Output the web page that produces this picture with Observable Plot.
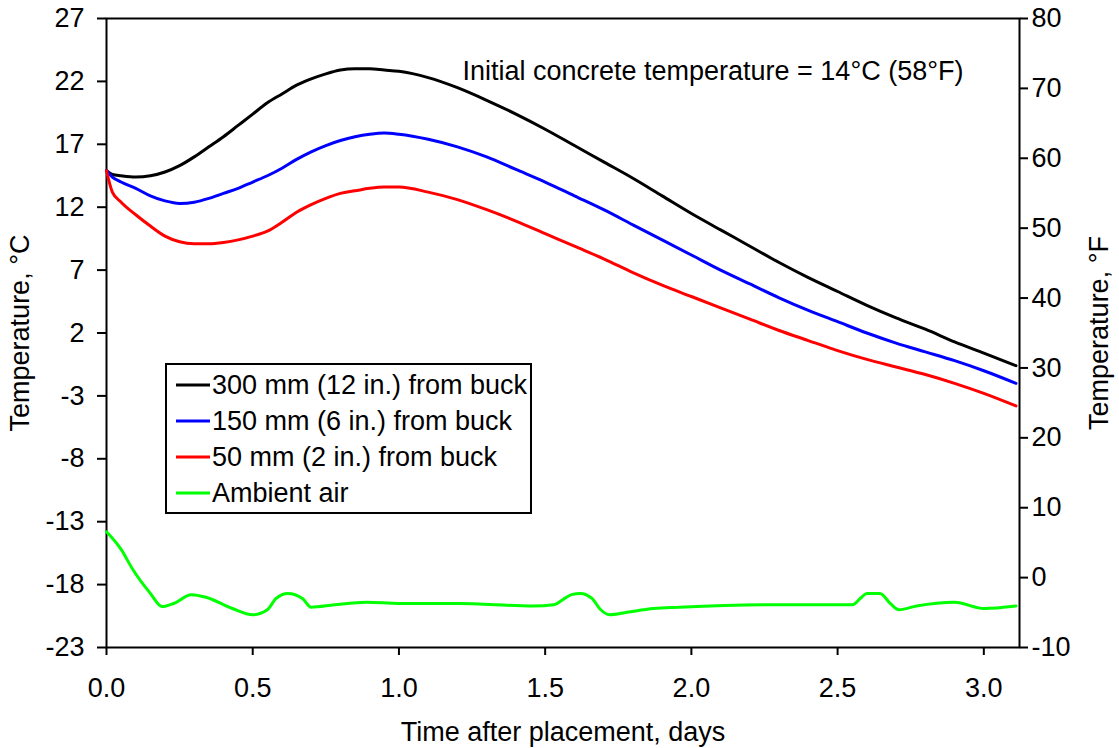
<!DOCTYPE html>
<html>
<head>
<meta charset="utf-8">
<script src="https://cdn.jsdelivr.net/npm/d3@7"></script>
<script src="https://cdn.jsdelivr.net/npm/@observablehq/plot@0.6"></script>
<style>
  html, body { margin: 0; padding: 0; background: #fff; }
  #wrap { position: relative; width: 1119px; height: 748px; font-family: "Liberation Sans", Arial, sans-serif; }
  #legend { position: absolute; left: 165px; top: 363px; width: 363px; height: 147px; border: 2px solid #000; background: #fff; }
</style>
</head>
<body>
<div id="wrap"></div>
<script>
// ---- data ----
const days = [0, 0.02, 0.05, 0.1, 0.15, 0.2, 0.25, 0.3, 0.35, 0.4, 0.45, 0.5, 0.55, 0.6, 0.65, 0.7, 0.75, 0.8, 0.85, 0.9, 0.95, 1.0,
  1.1, 1.2, 1.3, 1.4, 1.5, 1.6, 1.7, 1.8, 1.9, 2.0, 2.1, 2.2, 2.3, 2.4, 2.5, 2.6, 2.7, 2.8, 2.9, 3.0, 3.11];
const temp300mm = [14.9, 14.6, 14.5, 14.4, 14.5, 14.8, 15.3, 16.0, 16.8, 17.6, 18.5, 19.4, 20.3, 21.0, 21.7, 22.2, 22.6, 22.9, 23.0, 23.0, 22.9, 22.8,
  22.3, 21.5, 20.5, 19.4, 18.2, 16.9, 15.6, 14.3, 12.9, 11.5, 10.2, 8.9, 7.6, 6.4, 5.3, 4.2, 3.2, 2.3, 1.3, 0.4, -0.6];
const temp150mm = [14.9, 14.4, 14.0, 13.5, 12.9, 12.5, 12.3, 12.4, 12.7, 13.1, 13.5, 14.0, 14.5, 15.1, 15.8, 16.4, 16.9, 17.3, 17.6, 17.8, 17.9, 17.8,
  17.4, 16.8, 16.0, 15.0, 14.0, 12.9, 11.8, 10.6, 9.4, 8.2, 7.0, 5.9, 4.8, 3.8, 2.9, 2.0, 1.2, 0.5, -0.2, -1.0, -2.0];
const temp50mm = [14.9, 13.2, 12.4, 11.4, 10.5, 9.7, 9.25, 9.1, 9.1, 9.2, 9.4, 9.7, 10.1, 10.8, 11.6, 12.2, 12.7, 13.1, 13.3, 13.5, 13.6, 13.6,
  13.2, 12.6, 11.8, 10.9, 9.9, 8.9, 7.9, 6.8, 5.8, 4.9, 4.0, 3.1, 2.2, 1.4, 0.6, -0.1, -0.7, -1.3, -2.0, -2.8, -3.8];
const ambientDays = [0, 0.05, 0.09, 0.15, 0.19, 0.23, 0.29, 0.34, 0.43, 0.5, 0.55, 0.58, 0.62, 0.67, 0.70, 0.78, 0.89, 1.0, 1.2, 1.46, 1.53,
  1.56, 1.59, 1.62, 1.66, 1.69, 1.72, 1.78, 1.87, 1.96, 2.3, 2.55, 2.58, 2.60, 2.645, 2.68, 2.71, 2.77, 2.90, 3.0, 3.11];
const ambientTemp = [-13.8, -15.2, -16.8, -18.7, -19.75, -19.5, -18.8, -19.0, -19.9, -20.4, -20.0, -19.1, -18.7, -19.1, -19.8, -19.6, -19.4, -19.5, -19.5, -19.7, -19.6,
  -19.2, -18.8, -18.7, -19.1, -20.0, -20.4, -20.2, -19.9, -19.8, -19.6, -19.6, -19.05, -18.7, -18.7, -19.5, -20.0, -19.7, -19.4, -19.9, -19.7];

const seriesNames = ["300 mm (12 in.) from buck", "150 mm (6 in.) from buck", "50 mm (2 in.) from buck", "Ambient air"];
const seriesColors = ["#000000", "#0000ff", "#ff0000", "#00ff00"];

const xTicks = [0, 0.5, 1.0, 1.5, 2.0, 2.5, 3.0];
const celsiusTicks = [-23, -18, -13, -8, -3, 2, 7, 12, 17, 22, 27];
const fahrenheitTicks = [-10, 0, 10, 20, 30, 40, 50, 60, 70, 80];
const xDomain = [0, 3.122];
const cDomain = [-23, 27];
const fDomain = [-10, 80];

const xLabel = "Time after placement, days";
const yLabelLeft = "Temperature, °C";
const yLabelRight = "Temperature, °F";
const annotation = "Initial concrete temperature = 14°C (58°F)";

// ---- build table ----
const rows = [];
days.forEach((d, i) => {
  rows.push({day: d, temp: temp300mm[i], series: seriesNames[0]});
  rows.push({day: d, temp: temp150mm[i], series: seriesNames[1]});
  rows.push({day: d, temp: temp50mm[i], series: seriesNames[2]});
});
ambientDays.forEach((d, i) => rows.push({day: d, temp: ambientTemp[i], series: seriesNames[3]}));

// map a Fahrenheit axis value onto the Celsius-scale position
const fToPos = f => cDomain[0] + (f - fDomain[0]) * (cDomain[1] - cDomain[0]) / (fDomain[1] - fDomain[0]);
const posToF = p => String(Math.round(fDomain[0] + (p - cDomain[0]) * (fDomain[1] - fDomain[0]) / (cDomain[1] - cDomain[0])));

const FONT = 27;
const chart = Plot.plot({
  width: 1119,
  height: 748,
  marginLeft: 106,
  marginRight: 100,
  marginTop: 18,
  marginBottom: 101,
  style: {fontFamily: "'Liberation Sans', Arial, sans-serif", fontSize: FONT + "px", color: "#000", background: "#fff", overflow: "visible"},
  x: {domain: xDomain},
  y: {domain: cDomain},
  color: {domain: seriesNames, range: seriesColors},
  marks: [
    Plot.frame({stroke: "#000", strokeWidth: 2}),
    Plot.axisX(xTicks, {tickSize: 8, tickPadding: 22, strokeWidth: 2, tickFormat: d3.format(".1f"), label: null, fontSize: FONT}),
    Plot.axisY(celsiusTicks, {tickSize: 9, tickPadding: 13, strokeWidth: 2, tickFormat: d => String(d), label: null, fontSize: FONT}),
    Plot.axisY(fahrenheitTicks.map(fToPos), {anchor: "right", tickSize: 8, tickPadding: 4, strokeWidth: 2, tickFormat: posToF, label: null, fontSize: FONT}),
    Plot.line(rows, {x: "day", y: "temp", z: "series", stroke: "series", strokeWidth: 3, curve: "monotone-x"}),
    Plot.text([xLabel], {frameAnchor: "bottom", dy: 85, text: d => d, fontSize: FONT, lineAnchor: "middle"}),
    Plot.text([yLabelLeft], {frameAnchor: "left", dx: -86, rotate: -90, textAnchor: "middle", lineAnchor: "middle", text: d => d, fontSize: FONT}),
    Plot.text([yLabelRight], {frameAnchor: "right", dx: 80, rotate: -90, textAnchor: "middle", lineAnchor: "middle", text: d => d, fontSize: FONT}),
    Plot.text([annotation], {frameAnchor: "top-right", dx: -56, dy: 53, textAnchor: "end", lineAnchor: "middle", text: d => d, fontSize: FONT})
  ]
});

const wrap = document.getElementById("wrap");
wrap.appendChild(chart);

// legend (inside the plot area)
const legend = document.createElement("div");
legend.id = "legend";
wrap.appendChild(legend);
const lsvg = d3.select(legend).append("svg").attr("width", 363).attr("height", 147)
  .style("font-family", "'Liberation Sans', Arial, sans-serif").style("font-size", FONT + "px");
seriesNames.forEach((name, i) => {
  const y = 20 + i * 36;
  lsvg.append("line").attr("x1", 9).attr("x2", 43).attr("y1", y).attr("y2", y)
    .attr("stroke", seriesColors[i]).attr("stroke-width", 3);
  lsvg.append("text").attr("x", 45).attr("y", y).attr("dy", "0.35em").attr("fill", "#000").text(name);
});
</script>
</body>
</html>
